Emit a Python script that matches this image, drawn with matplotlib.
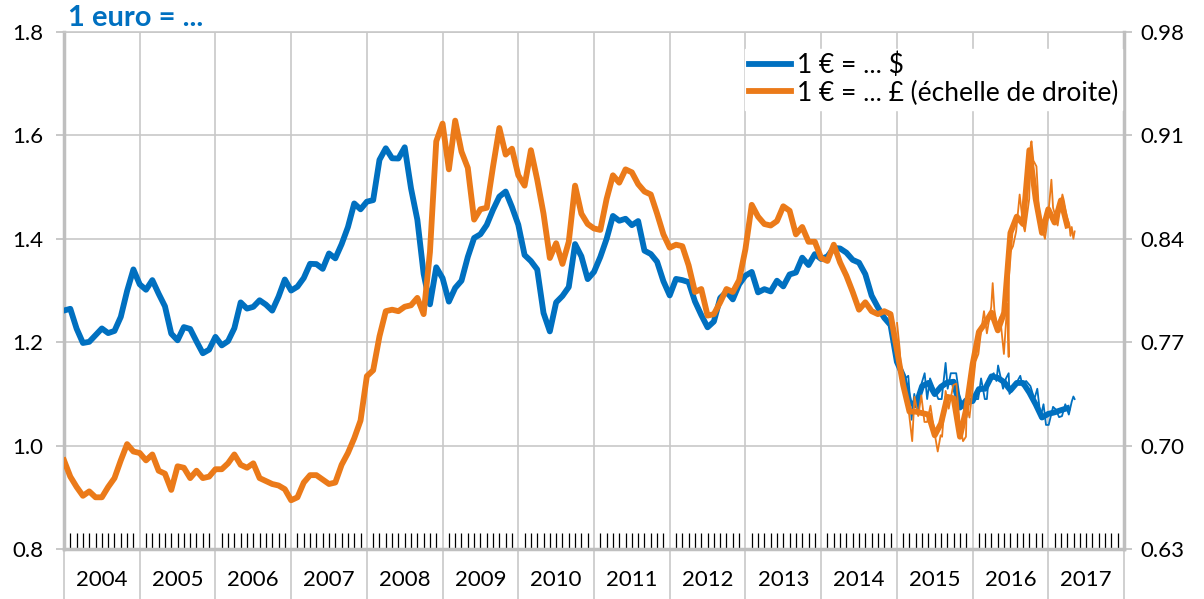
# Taux de change de l'euro : dollar (échelle de gauche) et livre sterling (échelle de droite)

import matplotlib.pyplot as plt
import matplotlib.transforms as mtransforms
import numpy as np
from datetime import date

plt.rcParams['font.family'] = ['Lato', 'DejaVu Sans']

# moyennes mensuelles, de janvier 2004 à avril 2017
usd_mensuel = [
    1.2613, 1.2646, 1.2262, 1.1985, 1.2007, 1.2138, 1.2266, 1.2176, 1.2218, 1.2490, 1.2991, 1.3408,  # 2004
    1.3119, 1.3014, 1.3201, 1.2938, 1.2694, 1.2165, 1.2037, 1.2292, 1.2256, 1.2015, 1.1786, 1.1856,  # 2005
    1.2103, 1.1938, 1.2020, 1.2271, 1.2770, 1.2650, 1.2684, 1.2811, 1.2727, 1.2611, 1.2881, 1.3213,  # 2006
    1.2999, 1.3074, 1.3242, 1.3516, 1.3511, 1.3419, 1.3716, 1.3622, 1.3896, 1.4227, 1.4684, 1.4570,  # 2007
    1.4718, 1.4748, 1.5527, 1.5751, 1.5557, 1.5553, 1.5770, 1.4975, 1.4370, 1.3322, 1.2732, 1.3449,  # 2008
    1.3239, 1.2785, 1.3050, 1.3190, 1.3650, 1.4016, 1.4088, 1.4268, 1.4562, 1.4816, 1.4914, 1.4614,  # 2009
    1.4272, 1.3686, 1.3569, 1.3406, 1.2565, 1.2209, 1.2770, 1.2894, 1.3067, 1.3898, 1.3661, 1.3220,  # 2010
    1.3360, 1.3649, 1.3999, 1.4442, 1.4349, 1.4388, 1.4264, 1.4343, 1.3770, 1.3706, 1.3556, 1.3179,  # 2011
    1.2905, 1.3224, 1.3201, 1.3162, 1.2789, 1.2526, 1.2288, 1.2400, 1.2856, 1.2974, 1.2828, 1.3119,  # 2012
    1.3288, 1.3359, 1.2964, 1.3026, 1.2982, 1.3189, 1.3080, 1.3310, 1.3348, 1.3635, 1.3493, 1.3704,  # 2013
    1.3610, 1.3659, 1.3823, 1.3813, 1.3732, 1.3592, 1.3539, 1.3316, 1.2901, 1.2673, 1.2472, 1.2331,  # 2014
    1.1621, 1.1351, 1.0838, 1.0779, 1.1150, 1.1213, 1.0996, 1.1139, 1.1221, 1.1235, 1.0736, 1.0877,  # 2015
    1.0860, 1.1093, 1.1100, 1.1339, 1.1311, 1.1229, 1.1069, 1.1212, 1.1212, 1.1026, 1.0799, 1.0543,  # 2016
    1.0614, 1.0643, 1.0685, 1.0723,                                                                  # 2017
]

gbp_mensuel = [
    0.690, 0.679, 0.672, 0.666, 0.669, 0.665, 0.665, 0.672, 0.678, 0.690, 0.701, 0.696,  # 2004
    0.695, 0.690, 0.694, 0.683, 0.681, 0.670, 0.686, 0.685, 0.678, 0.683, 0.678, 0.679,  # 2005
    0.684, 0.684, 0.688, 0.694, 0.687, 0.685, 0.688, 0.678, 0.676, 0.674, 0.673, 0.6705, # 2006
    0.663, 0.665, 0.675, 0.680, 0.680, 0.677, 0.674, 0.675, 0.687, 0.695, 0.705, 0.717,  # 2007
    0.747, 0.751, 0.774, 0.791, 0.792, 0.791, 0.794, 0.795, 0.800, 0.789, 0.831, 0.906,  # 2008
    0.918, 0.887, 0.920, 0.899, 0.888, 0.853, 0.860, 0.861, 0.889, 0.915, 0.897, 0.901,  # 2009
    0.883, 0.876, 0.900, 0.880, 0.857, 0.827, 0.837, 0.823, 0.838, 0.876, 0.857, 0.850,  # 2010
    0.847, 0.846, 0.867, 0.883, 0.878, 0.887, 0.885, 0.877, 0.872, 0.870, 0.857, 0.843,  # 2011
    0.834, 0.836, 0.835, 0.822, 0.804, 0.806, 0.788, 0.789, 0.797, 0.806, 0.804, 0.812,  # 2012
    0.833, 0.863, 0.855, 0.850, 0.849, 0.852, 0.862, 0.859, 0.843, 0.848, 0.838, 0.838,  # 2013
    0.827, 0.825, 0.836, 0.824, 0.815, 0.804, 0.792, 0.797, 0.791, 0.789, 0.791, 0.789,  # 2014
    0.765, 0.741, 0.723, 0.723, 0.722, 0.721, 0.707, 0.715, 0.733, 0.732, 0.706, 0.725,  # 2015
    0.755, 0.777, 0.783, 0.790, 0.778, 0.790, 0.844, 0.855, 0.850, 0.900, 0.867, 0.844,  # 2016
    0.860, 0.851, 0.866, 0.849,                                                          # 2017
]

# cours quotidiens (relevés) depuis 2015
usd_dates = [
    "2015-01-02", "2015-01-15", "2015-01-26", "2015-02-10", "2015-02-25", "2015-03-13", "2015-03-26",
    "2015-04-13", "2015-04-30", "2015-05-15", "2015-05-27", "2015-06-10", "2015-06-30", "2015-07-20",
    "2015-08-05", "2015-08-24", "2015-09-03", "2015-09-18", "2015-10-14", "2015-10-28", "2015-11-12",
    "2015-12-03", "2015-12-04", "2015-12-18", "2016-01-15", "2016-01-28", "2016-02-11", "2016-02-29",
    "2016-03-10", "2016-03-18", "2016-04-12", "2016-04-25", "2016-05-03", "2016-05-27", "2016-06-10",
    "2016-06-23", "2016-06-27", "2016-07-15", "2016-08-18", "2016-08-29", "2016-09-15", "2016-10-06",
    "2016-10-25", "2016-11-08", "2016-11-24", "2016-12-08", "2016-12-20", "2017-01-03", "2017-01-24",
    "2017-02-06", "2017-02-22", "2017-03-08", "2017-03-24", "2017-04-10", "2017-04-24", "2017-05-02",
    "2017-05-08",
]
usd_quotidien = [
    1.200, 1.160, 1.120, 1.130, 1.135, 1.050, 1.100,
    1.060, 1.120, 1.140, 1.090, 1.130, 1.110, 1.090,
    1.090, 1.160, 1.110, 1.140, 1.140, 1.100, 1.080,
    1.055, 1.090, 1.080, 1.090, 1.090, 1.130, 1.090,
    1.090, 1.130, 1.140, 1.125, 1.155, 1.110, 1.130,
    1.140, 1.100, 1.110, 1.135, 1.115, 1.125, 1.115,
    1.090, 1.110, 1.055, 1.080, 1.040, 1.040, 1.075,
    1.070, 1.055, 1.057, 1.080, 1.060, 1.085, 1.095,
    1.090,
]

gbp_dates = [
    "2015-01-02", "2015-01-15", "2015-01-23", "2015-02-06", "2015-02-26", "2015-03-16", "2015-03-27",
    "2015-04-14", "2015-04-29", "2015-05-14", "2015-05-27", "2015-06-12", "2015-06-30", "2015-07-17",
    "2015-07-31", "2015-08-07", "2015-08-24", "2015-09-08", "2015-09-30", "2015-10-15", "2015-10-30",
    "2015-11-16", "2015-11-30", "2015-12-04", "2015-12-17", "2015-12-31", "2016-01-15", "2016-01-29",
    "2016-02-09", "2016-02-25", "2016-03-10", "2016-03-31", "2016-04-07", "2016-04-15", "2016-04-28",
    "2016-05-13", "2016-05-31", "2016-06-16", "2016-06-23", "2016-06-24", "2016-06-30", "2016-07-14",
    "2016-07-29", "2016-08-15", "2016-08-31", "2016-09-09", "2016-09-30", "2016-10-07", "2016-10-11",
    "2016-10-20", "2016-11-04", "2016-11-15", "2016-12-01", "2016-12-15", "2016-12-30", "2017-01-16",
    "2017-01-24", "2017-02-01", "2017-02-15", "2017-03-10", "2017-03-17", "2017-03-31", "2017-04-12",
    "2017-04-18", "2017-04-24", "2017-05-02", "2017-05-08",
]
gbp_quotidien = [
    0.783, 0.765, 0.747, 0.742, 0.725, 0.703, 0.733,
    0.720, 0.734, 0.716, 0.716, 0.727, 0.710, 0.696,
    0.707, 0.706, 0.737, 0.725, 0.741, 0.742, 0.716,
    0.703, 0.706, 0.727, 0.719, 0.737, 0.757, 0.762,
    0.775, 0.791, 0.776, 0.794, 0.810, 0.792, 0.781,
    0.787, 0.762, 0.796, 0.760, 0.812, 0.831, 0.835,
    0.845, 0.870, 0.850, 0.845, 0.867, 0.903, 0.906,
    0.893, 0.889, 0.861, 0.847, 0.840, 0.855, 0.880,
    0.861, 0.857, 0.849, 0.870, 0.866, 0.855, 0.850,
    0.842, 0.848, 0.840, 0.845,
]

annees = list(range(2004, 2018))

bleu = '#0070C0'
orange = '#EB7A19'
gris = '#c8c8c8'
gris_axe = '#bfbfbf'


# conversion date -> année décimale
def annee_decimale(texte):
    d = date.fromisoformat(texte)
    debut = date(d.year, 1, 1)
    return d.year + (d - debut).days / 365.0


t_mensuel = 2004 + np.arange(len(usd_mensuel)) / 12.0
t_usd = [annee_decimale(d) for d in usd_dates]
t_gbp = [annee_decimale(d) for d in gbp_dates]

fig = plt.figure(figsize=(12.04, 5.99), dpi=100)
ax1 = fig.add_axes([64 / 1204, 1 - 549 / 599, 1060 / 1204, 517 / 599])
ax2 = ax1.twinx()

# dollar, échelle de gauche
l1, = ax1.plot(t_mensuel, usd_mensuel, color=bleu, lw=4.2, solid_joinstyle='round', zorder=3)
ax1.plot(t_usd, usd_quotidien, color=bleu, lw=1.3, zorder=3)

# livre, échelle de droite
l2, = ax2.plot(t_mensuel, gbp_mensuel, color=orange, lw=4.2, solid_joinstyle='round')
ax2.plot(t_gbp, gbp_quotidien, color=orange, lw=1.3)

ax1.set_xlim(annees[0], annees[-1] + 1)
ax1.set_ylim(0.8, 1.8)
ax2.set_ylim(0.63, 0.98)

# axe des x : séparation des années, mois en petites graduations
ax1.set_xticks(annees + [annees[-1] + 1])
mois = [a + m / 12.0 for a in annees for m in range(1, 12)]
ax1.set_xticks(mois, minor=True)
ax1.tick_params(axis='x', which='major', direction='out', length=36, width=1.2,
                color=gris, labelbottom=False)
ax1.tick_params(axis='x', which='minor', direction='in', length=11.5, width=0.9,
                color='black')

trans = mtransforms.blended_transform_factory(ax1.transData, ax1.transAxes)
for a in annees:
    ax1.text(a + 0.5, -0.06, str(a), transform=trans, ha='center', va='center',
             fontsize=16, color='black')

# axes des y
ax1.set_yticks(np.arange(0.8, 1.81, 0.2))
ax1.set_yticklabels(['%.1f' % v for v in np.arange(0.8, 1.81, 0.2)])
ax1.tick_params(axis='y', direction='out', length=6, width=1.2, color=gris_axe,
                labelsize=16, pad=9)
ax2.set_yticks(np.arange(0.63, 0.981, 0.07))
ax2.set_yticklabels(['%.2f' % v for v in np.arange(0.63, 0.981, 0.07)])
ax2.tick_params(axis='y', direction='out', length=6, width=1.2, color=gris_axe,
                labelsize=16, pad=6)

ax1.grid(True, which='major', color=gris, lw=1.2)
ax1.set_axisbelow(True)

for cote in ['left', 'bottom']:
    ax1.spines[cote].set_color(gris_axe)
    ax1.spines[cote].set_linewidth(2.5)
ax1.spines['top'].set_color(gris)
ax1.spines['top'].set_linewidth(1.2)
ax1.spines['right'].set_visible(False)
for cote in ['left', 'bottom', 'top']:
    ax2.spines[cote].set_visible(False)
ax2.spines['right'].set_color(gris_axe)
ax2.spines['right'].set_linewidth(2.5)

# légende et titre
leg = ax2.legend([l1, l2], ['1 € = ... $', '1 € = ... £ (échelle de droite)'],
                 loc='upper right', bbox_to_anchor=(1122 / 1204, 1 - 49 / 599),
                 bbox_transform=fig.transFigure, fontsize=19, frameon=True,
                 fancybox=False, borderpad=0.15, borderaxespad=0, handlelength=1.6,
                 handletextpad=0.2, labelspacing=0.08)
leg.get_frame().set_facecolor('white')
leg.get_frame().set_edgecolor('white')
leg.get_frame().set_alpha(1)

fig.text(68 / 1204, 1 - 18 / 599, '1 euro = ...', color=bleu, fontsize=21,
         fontweight='bold', ha='left', va='center')

fig.savefig('out.png', dpi=100)
